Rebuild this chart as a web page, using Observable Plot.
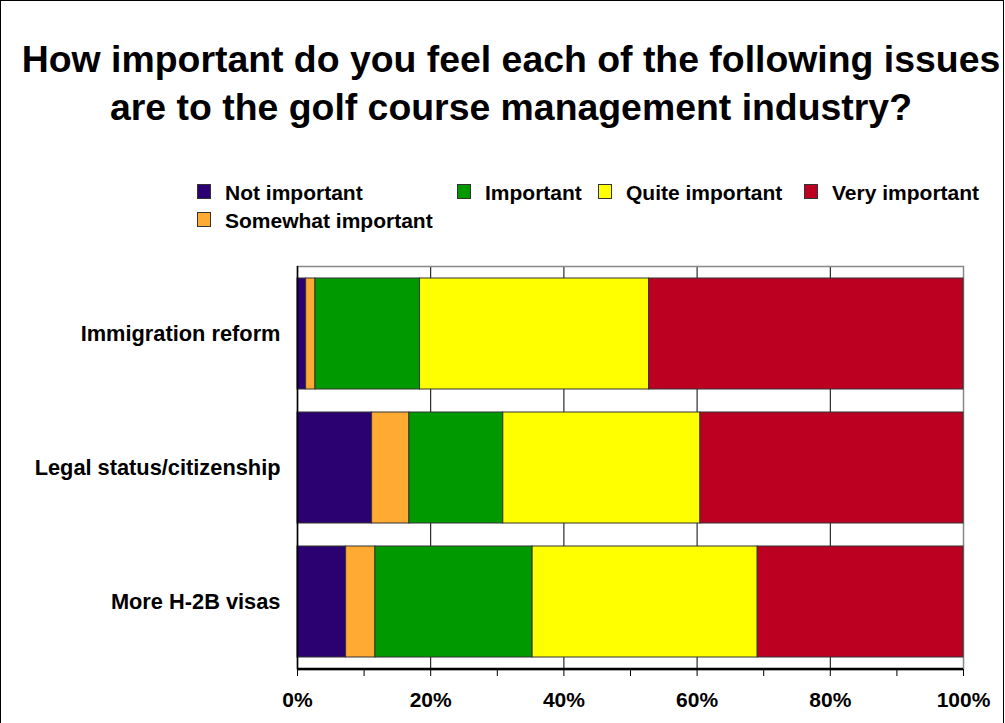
<!DOCTYPE html>
<html>
<head>
<meta charset="utf-8">
<script src="https://cdn.jsdelivr.net/npm/d3@7"></script>
<script src="https://cdn.jsdelivr.net/npm/@observablehq/plot@0.6"></script>
<style>
  body { margin: 0; background: #fff; font-family: "Liberation Sans", Arial, sans-serif; }
  #wrap { position: relative; width: 1005px; height: 723px; overflow: hidden; background: #fff; }
  #border { position: absolute; left: 0; top: 0; width: 1004px; height: 800px; border: 1px solid #000; box-sizing: border-box; }
  #title { position: absolute; left: 0; width: 1022px; top: 35px; text-align: center; font-weight: bold; font-size: 37.4px; line-height: 48px; color: #000; }
  .sw { position: absolute; width: 14px; height: 15px; border: 1px solid #333; box-sizing: border-box; }
  .lt { position: absolute; font-weight: bold; font-size: 21px; line-height: 21px; color: #000; white-space: nowrap; }
  #chart { position: absolute; left: 0; top: 250px; }
</style>
</head>
<body>
<div id="wrap">
  <div id="border"></div>
  <div id="title">How important do you feel each of the following issues<br>are to the golf course management industry?</div>
  <div id="legend"></div>
  <div id="chart"></div>
</div>
<script>
// ---- data ----
const issues = ["Immigration reform", "Legal status/citizenship", "More H-2B visas"];
const levels = ["Not important", "Somewhat important", "Important", "Quite important", "Very important"];
const colors = ["#2b0070", "#ffaa33", "#009900", "#ffff00", "#bb0022"];
const notImportant      = [1.3, 11.2, 7.3];
const somewhatImportant = [1.4, 5.6, 4.4];
const important         = [15.7, 14.1, 23.6];
const quiteImportant    = [34.4, 29.6, 33.8];
const veryImportant     = [47.2, 39.5, 30.9];
const xTicks = [0, 10, 20, 30, 40, 50, 60, 70, 80, 90, 100];
const gridLines = [20, 40, 60, 80];

const series = [notImportant, somewhatImportant, important, quiteImportant, veryImportant];
const rows = [];
issues.forEach((iss, i) => {
  levels.forEach((lev, j) => rows.push({issue: iss, level: lev, value: series[j][i]}));
});

// ---- legend (HTML) ----
const legendPos = {
  "Not important": [197, 184],
  "Important": [457, 184],
  "Quite important": [598, 184],
  "Very important": [804, 184],
  "Somewhat important": [197, 212]
};
const leg = document.getElementById("legend");
levels.forEach((lev, j) => {
  const [x, y] = legendPos[lev];
  const s = document.createElement("div");
  s.className = "sw"; s.style.left = x + "px"; s.style.top = y + "px"; s.style.background = colors[j];
  leg.appendChild(s);
  const t = document.createElement("div");
  t.className = "lt"; t.style.left = (x + 28) + "px"; t.style.top = (y - 2) + "px"; t.textContent = lev;
  leg.appendChild(t);
});

// ---- chart ----
const chart = Plot.plot({
  width: 1005,
  height: 473,
  marginLeft: 297,
  marginRight: 42,
  marginTop: 16,
  marginBottom: 54,
  style: { fontFamily: "'Liberation Sans', Arial, sans-serif", fontSize: "21px", fontWeight: "bold", color: "#000", background: "transparent" },
  x: { domain: [0, 100], ticks: xTicks },
  y: { domain: issues, paddingInner: 0.17, paddingOuter: 0.085 },
  color: { domain: levels, range: colors },
  marks: [
    Plot.ruleX(gridLines, { stroke: "#000", strokeWidth: 1 }),
    Plot.frame({ stroke: "#888", strokeWidth: 1.5 }),
    Plot.barX(rows, Plot.stackX({ x: "value", y: "issue", fill: "level", order: levels, stroke: "#333", strokeWidth: 1, inset: 0 })),
    Plot.ruleX([0], { stroke: "#000", strokeWidth: 1.5 }),
    Plot.axisX({ ticks: xTicks, tickSize: 7, tickPadding: 16, tickFormat: d => d % 20 === 0 ? d + "%" : "", stroke: "#000", strokeWidth: 1, label: null, fontSize: 21, fontWeight: "bold" }),
    Plot.axisY({ tickSize: 0, tickPadding: 17, label: null, fontSize: 21.8, fontWeight: "bold" })
  ]
});
document.getElementById("chart").appendChild(chart);

// bottom axis baseline (thick black)
const svg = d3.select(chart);
const xs = chart.scale("x");
svg.append("line")
  .attr("x1", xs.apply(0)).attr("x2", xs.apply(100))
  .attr("y1", 473 - 54).attr("y2", 473 - 54)
  .attr("stroke", "#000").attr("stroke-width", 2.5);
</script>
</body>
</html>
